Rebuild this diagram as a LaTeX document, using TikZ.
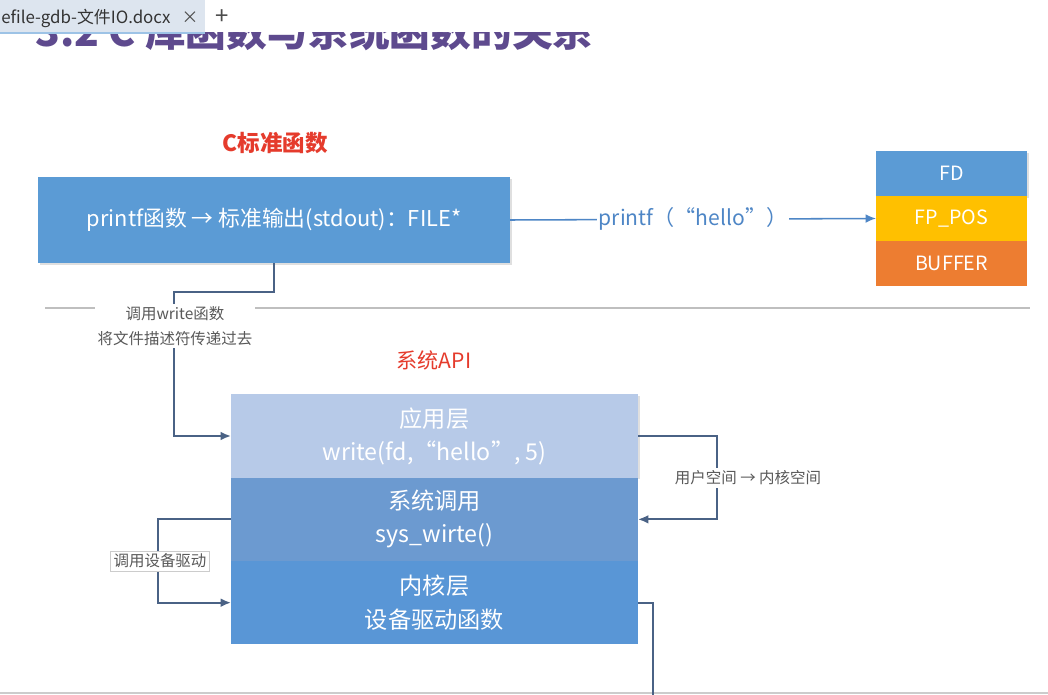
\documentclass[tikz,border=0pt]{standalone}
\usepackage{fontspec}
\setmainfont{Noto Sans CJK SC}
\usetikzlibrary{arrows.meta, positioning, shadows}
\definecolor{mblue}{HTML}{5B9BD5}
\definecolor{mapp}{HTML}{B7CAE8}
\definecolor{msys}{HTML}{6C9AD0}
\definecolor{mkern}{HTML}{5996D6}
\definecolor{mgold}{HTML}{FFC000}
\definecolor{morange}{HTML}{ED7D31}
\definecolor{mred}{HTML}{E53B2C}
\definecolor{mpurple}{HTML}{5E4A8E}
\definecolor{mslate}{HTML}{4A6285}
\definecolor{mline}{HTML}{4E86C6}
\definecolor{mtext}{HTML}{595959}
\definecolor{mtab}{HTML}{DDE5EF}
\tikzset{
  softshadow/.style={drop shadow={opacity=0.25, shadow xshift=1.2pt, shadow yshift=-1.2pt}},
  cbox/.style={fill=mblue, text=white, minimum width=11.8cm, minimum height=2.15cm,
               outer sep=0pt, font=\fontsize{15.5}{18}\selectfont, softshadow},
  cell/.style={text=white, minimum width=3.775cm, minimum height=1.125cm,
               outer sep=0pt, inner sep=0pt, font=\fontsize{14}{17}\selectfont},
  lyr/.style={text=white, minimum width=10.175cm, minimum height=2.083cm,
              outer sep=0pt, align=center, font=\fontsize{16.5}{23.5}\selectfont},
  head/.style={text=mred, font=\fontsize{16}{19}\selectfont\bfseries},
  lbl/.style={fill=white, text=mtext, align=center, inner sep=2pt,
              font=\fontsize{11}{17.5}\selectfont},
  plbl/.style={fill=white, text=mline, inner sep=1pt, font=\fontsize{15}{18}\selectfont},
  arr/.style={-{Latex[length=2.6mm, width=2.2mm]}, line width=1.3pt, mslate},
  parr/.style={-{Latex[length=2.6mm, width=2.2mm]}, line width=1.1pt, mline},
}
\begin{document}
\begin{tikzpicture}[x=0.025cm, y=-0.025cm]
  \useasboundingbox[fill=white] (0,0) rectangle (1048,695);
  % title, cut by the tab bar
  \begin{scope}
    \clip (0,33) rectangle (1048,80);
    \node[text=mpurple, anchor=base west, inner sep=0pt,
          font=\fontsize{29}{32}\selectfont\bfseries] (title) at (35,47) {3.2 C 库函数与系统函数的关系};
  \end{scope}
  \fill[mtab] (0,0) rectangle (205,33);
  \draw[mblue!60, line width=1pt] (0,33) -- (205,33);
  \node[anchor=west, inner sep=0pt, text=black!80, font=\fontsize{12}{13}\selectfont] (tab) at (1,18) {efile-gdb-文件IO.docx};
  \node[text=black!70, font=\fontsize{12}{12}\selectfont] (close) at (190,18) {×};
  \node[text=black!70, font=\fontsize{17}{17}\selectfont] (plus) at (222,17) {+};
  % separators
  \draw[black!25, line width=1pt] (45,308) -- (1030,308);
  \draw[black!20, line width=1pt] (0,693) -- (1048,693);
  % C library part
  \node[head] (chead) at (275,143) {C标准函数};
  \node[cbox] (cfun) at (274,220) {printf函数 → 标准输出(stdout)：FILE*};
  \node[cell, fill=mblue, softshadow] (fd) at (951.5,173.5) {FD};
  \node[cell, fill=mgold, below=0pt of fd] (fppos) {FP\_POS};
  \node[cell, fill=morange, below=0pt of fppos] (buf) {BUFFER};
  \draw[parr] (cfun.east) -- node[plbl] (plabel) {printf（“hello”）} (fppos.west);
  % system API part
  \node[head, font=\fontsize{15}{18}\selectfont] (shead) at (434,360) {系统API};
  \node[lyr, fill=mapp, softshadow] (app) at (434.5,436) {应用层\\write(fd,“hello”, 5)};
  \node[lyr, fill=msys, below=0pt of app] (sys) {系统调用\\sys\_wirte()};
  \node[lyr, fill=mkern, below=0pt of sys] (kern) {内核层\\设备驱动函数};
  \coordinate (out) at (653,700);
  \draw[arr] (cfun.south) -- ++(0,29) -- ++(-100,0) |- (app.west);
  \draw[arr] (app.east) -- ++(79,0) |- (sys.east);
  \draw[arr] (sys.west) -- ++(-73,0) |- (kern.west);
  \draw[mslate, line width=1.3pt] (kern.east) -| (out);
  \node[lbl] (wlabel) at (175,326) {调用write函数\\将文件描述符传递过去};
  \node[lbl] (ulabel) at (748,478) {用户空间 → 内核空间};
  \node[lbl, draw=black!20, line width=0.6pt] (dlabel) at (160,561) {调用设备驱动};
\end{tikzpicture}
\end{document}
